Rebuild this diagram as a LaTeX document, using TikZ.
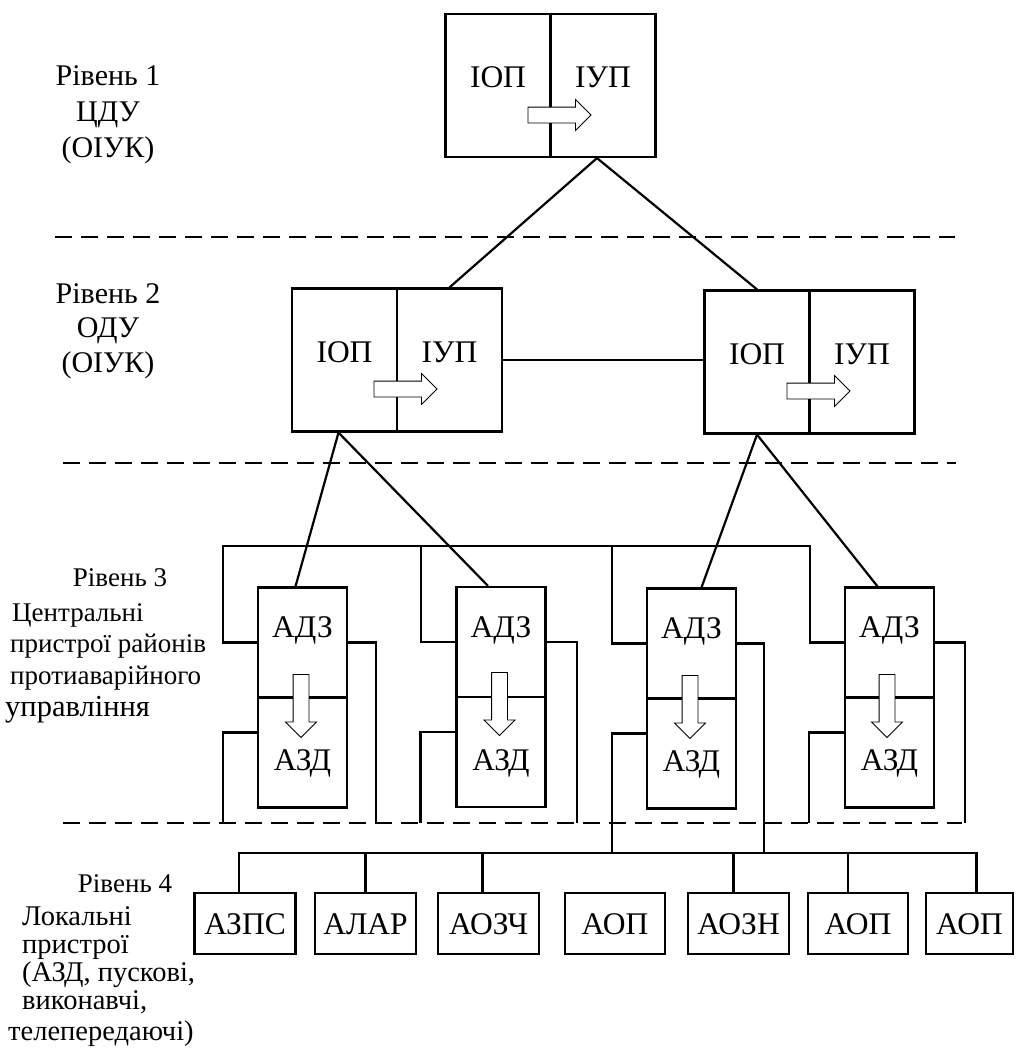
\documentclass[tikz,border=0pt]{standalone}
\usepackage{fontspec}
\setmainfont{Liberation Serif}
\usetikzlibrary{shapes.arrows}

\begin{document}
\begin{tikzpicture}[x=1pt,y=-1pt,
 wire/.style={line width=2.2pt},
 levelline/.style={line width=2.6pt,dash pattern=on 17pt off 9pt},
 half/.style={draw,line width=2.2pt,inner sep=0pt,minimum width=105pt,minimum height=143pt,font=\fontsize{31.5}{36}\selectfont,text height=21pt,text depth=16pt},
 topcell/.style={draw,line width=2.2pt,inner sep=0pt,minimum width=89pt,minimum height=110pt,font=\fontsize{31.5}{36}\selectfont,text height=21pt,text depth=31pt},
 botcell/.style={draw,line width=2.2pt,inner sep=0pt,minimum width=89pt,minimum height=110pt,font=\fontsize{31.5}{36}\selectfont,text height=36pt,text depth=0pt},
 devbox/.style={draw,line width=2.2pt,inner sep=0pt,minimum width=101pt,minimum height=61pt,font=\fontsize{31.5}{36}\selectfont,text height=21pt,text depth=0pt},
 blk/.style={single arrow,draw,fill=white,line width=0.8pt,inner xsep=0pt,inner ysep=7.5pt,single arrow head extend=7.5pt,minimum height=63pt},
 lvl/.style={font=\fontsize{30}{36}\selectfont,anchor=base,inner sep=0pt},
 lvlb/.style={font=\fontsize{27}{32}\selectfont,anchor=base,inner sep=0pt},
 txt/.style={font=\fontsize{27}{32}\selectfont,anchor=base west,inner sep=0pt}]
 \useasboundingbox (0,0) rectangle (1016,1057);

 \node[lvl] (r1a) at (108,85) {Рівень 1};
 \node[lvl] (r1b) at (108,121) {ЦДУ};
 \node[lvl] (r1c) at (108,157) {(ОІУК)};
 \node[lvl] (r2a) at (108,303) {Рівень 2};
 \node[lvl] (r2b) at (108,337) {ОДУ};
 \node[lvl] (r2c) at (108,372) {(ОІУК)};
 \node[lvlb] (r3a) at (120,586) {Рівень 3};
 \node[txt] (r3b) at (12,621) {Центральні};
 \node[txt] (r3c) at (10,652) {пристрої районів};
 \node[txt] (r3d) at (10,684) {протиаварійного};
 \node[txt,font=\fontsize{30.5}{36}\selectfont] (r3e) at (5,716) {управління};
 \node[lvlb] (r4a) at (125,892) {Рівень 4};
 \node[txt,font=\fontsize{28.5}{32}\selectfont] (r4b) at (22,925) {Локальні};
 \node[txt,font=\fontsize{28.5}{32}\selectfont] (r4c) at (22,953) {пристрої};
 \node[txt,font=\fontsize{28.5}{32}\selectfont] (r4d) at (22,981) {(АЗД, пускові,};
 \node[txt,font=\fontsize{28.5}{32}\selectfont] (r4e) at (22,1009) {виконавчі,};
 \node[txt,font=\fontsize{28.5}{32}\selectfont] (r4f) at (8,1040) {телепередаючі)};

 \coordinate (s1) at (55,237);
 \coordinate (s1e) at (955,237);
 \coordinate (s2) at (63,463);
 \coordinate (s2e) at (956,463);
 \coordinate (s3) at (63,823);
 \coordinate (s3e) at (962,823);
 \draw[levelline] (s1)--(s1e);
 \draw[levelline] (s2)--(s2e);
 \draw[levelline] (s3)--(s3e);

 \node[half] (t1) at (498,85.5) {ІОП};
 \node[half] (t2) at (603,85.5) {ІУП};
 \node[half] (a1) at (344.5,360) {ІОП};
 \node[half] (a2) at (449.5,360) {ІУП};
 \node[half] (b1) at (757,362) {ІОП};
 \node[half] (b2) at (862,362) {ІУП};

 \node[topcell] (c1u) at (302.5,642.5) {АДЗ};
 \node[botcell] (c1d) at (302.5,752.5) {АЗД};
 \node[topcell] (c2u) at (501,642) {АДЗ};
 \node[botcell] (c2d) at (501,752) {АЗД};
 \node[topcell] (c3u) at (691.5,643.5) {АДЗ};
 \node[botcell] (c3d) at (691.5,753.5) {АЗД};
 \node[topcell] (c4u) at (889.5,642.5) {АДЗ};
 \node[botcell] (c4d) at (889.5,752.5) {АЗД};

 \node[devbox] (d1) at (245,923.5) {АЗПС};
 \node[devbox] (d2) at (365.5,923.5) {АЛАР};
 \node[devbox] (d3) at (488.5,923.5) {АОЗЧ};
 \node[devbox,minimum width=100pt] (d4) at (615,923.5) {АОП};
 \node[devbox] (d5) at (738.5,923.5) {АОЗН};
 \node[devbox,minimum width=100pt] (d6) at (858,923.5) {АОП};
 \node[devbox,minimum width=87pt] (d7) at (969.5,923.5) {АОП};

 \node[blk] (m0) at (555.5,115) {};
 \node[blk] (m1) at (401.5,389) {};
 \node[blk] (m2) at (814.5,391) {};
 \node[blk,rotate=-90] (m3) at (301,702) {};
 \node[blk,rotate=-90] (m4) at (499.5,700) {};
 \node[blk,rotate=-90] (m5) at (690,703) {};
 \node[blk,rotate=-90] (m6) at (887,702) {};

 \draw[wire] ([xshift=-6pt]t2.south)--(a2.north);
 \draw[wire] ([xshift=-6pt]t2.south)--(b1.north);
 \draw[wire] (a2.east)--(a2.east -| b1.west);
 \draw[wire] ([xshift=-6pt]a1.south)--([xshift=-7pt]c1u.north);
 \draw[wire] ([xshift=-6pt]a1.south)--([xshift=-13pt]c2u.north);
 \draw[wire] (b1.south)--([xshift=10pt]c3u.north);
 \draw[wire] (b1.south)--([xshift=-12pt]c4u.north);

 \coordinate (busL) at (223,546);
 \coordinate (busR) at (810,546);
 \coordinate (k2) at (421,546);
 \coordinate (k3) at (612,546);
 \draw[wire] (c1u.west) -| (busL)--(busR) |- (c4u.west);
 \draw[wire] (c2u.west) -| (k2);
 \draw[wire] (c3u.west) -| (k3);

 \coordinate (row) at (0,853);
 \draw[wire] (c1u.east)--++(28,0) coordinate (r1)--(r1 |- s3);
 \draw[wire] ([yshift=20pt]c1d.west)--++(-34,0) coordinate (l1)--(l1 |- s3);
 \draw[wire] (c2u.east)--++(30,0) coordinate (r2)--(r2 |- s3);
 \draw[wire] ([yshift=20pt]c2d.west)--++(-35,0) coordinate (l2)--(l2 |- s3);
 \draw[wire] (c3u.east)--++(27,0) coordinate (r3)--(r3 |- row);
 \draw[wire] ([yshift=20pt]c3d.west)--++(-34,0) coordinate (l3)--(l3 |- row);
 \draw[wire] (c4u.east)--++(30,0) coordinate (r4)--(r4 |- s3);
 \draw[wire] ([yshift=20pt]c4d.west)--++(-35,0) coordinate (l4)--(l4 |- s3);

 \draw[wire] ([xshift=-6pt]d1.north) |- ([xshift=7pt]d7.north |- row)--([xshift=7pt]d7.north);
 \draw[wire] (d2.north)--(d2.north |- row);
 \draw[wire] ([xshift=-6pt]d3.north)--([xshift=-6pt]d3.north |- row);
 \draw[wire] ([xshift=-5pt]d5.north)--([xshift=-5pt]d5.north |- row);
 \draw[wire] ([xshift=-10pt]d6.north)--([xshift=-10pt]d6.north |- row);
\end{tikzpicture}
\end{document}
